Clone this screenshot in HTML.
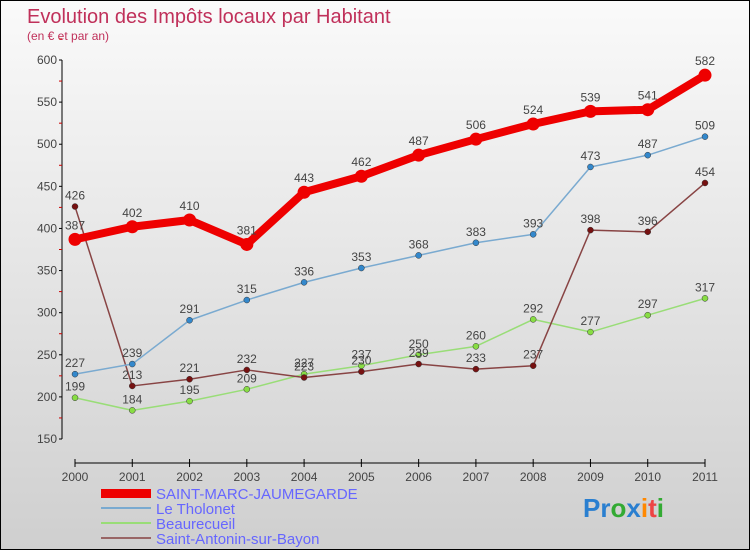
<!DOCTYPE html>
<html><head><meta charset="utf-8"><style>
body{margin:0}
#c{width:748px;height:548px;border:1px solid #000;background:linear-gradient(#fafafa,#cfcfcf);position:relative;overflow:hidden;font-family:"Liberation Sans",sans-serif}
</style></head><body>
<div id="c">
<svg width="748" height="548" id="svg">
<text x="26" y="22" font-size="20" fill="#c0305a">Evolution des Impôts locaux par Habitant</text>
<text x="26" y="39" font-size="12" fill="#c0305a">(en € et par an)</text>
<g id="axes"></g><g id="series"></g>
<g>
<rect x="100" y="488" width="50" height="9" fill="#e00"/>
<text x="155" y="498" font-size="15" fill="#66f">SAINT-MARC-JAUMEGARDE</text>
<line x1="100" x2="150" y1="507" y2="507" stroke="#7aaad0" stroke-width="2"/>
<text x="155" y="513" font-size="15" fill="#66f">Le Tholonet</text>
<line x1="100" x2="150" y1="522" y2="522" stroke="#99dd77" stroke-width="2"/>
<text x="155" y="528" font-size="15" fill="#66f">Beaurecueil</text>
<line x1="100" x2="150" y1="537" y2="537" stroke="#996666" stroke-width="2"/>
<text x="155" y="543" font-size="15" fill="#66f">Saint-Antonin-sur-Bayon</text>
</g>
<text x="582" y="516" font-size="26" font-weight="bold"><tspan fill="#2a7fd0">Pr</tspan><tspan fill="#3a3">o</tspan><tspan fill="#2a7fd0">x</tspan><tspan fill="#f80">i</tspan><tspan fill="#e44">t</tspan><tspan fill="#3a3">i</tspan></text>
</svg></div>
<script>
const years=[2000,2001,2002,2003,2004,2005,2006,2007,2008,2009,2010,2011];
const yTicks=[150,200,250,300,350,400,450,500,550,600];
const saintMarc=[387,402,410,381,443,462,487,506,524,539,541,582];
const tholonet=[227,239,291,315,336,353,368,383,393,473,487,509];
const beaurecueil=[199,184,195,209,227,237,250,260,292,277,297,317];
const saintAntonin=[426,213,221,232,223,230,239,233,237,398,396,454];
const NS="http://www.w3.org/2000/svg";
function X(i){return 74+i*(630/11);}
function Y(v){return 59+(600-v)*379/450;}
function mk(t,a,p){const e=document.createElementNS(NS,t);for(const k in a)e.setAttribute(k,a[k]);p.appendChild(e);return e;}
const ax=document.getElementById('axes');
let l=mk('line',{x1:61,x2:61,y1:Y(600),y2:Y(150),stroke:'#000'},ax);


l=mk('line',{x1:74,x2:704,y1:462,y2:462,stroke:'#000'},ax);


yTicks.forEach(v=>{
 mk('line',{x1:58,x2:61,y1:Y(v),y2:Y(v),stroke:'#000'},ax);
 mk('line',{x1:58,x2:61,y1:Y(v+25),y2:Y(v+25),stroke:'#c00'},ax);
 const t=mk('text',{x:56,y:Y(v)+4,'font-size':12,fill:'#444','text-anchor':'end'},ax);t.textContent=v;
 
 
});
years.forEach((y,i)=>{
 mk('line',{x1:X(i),x2:X(i),y1:458,y2:466,stroke:'#000'},ax);
 const t=mk('text',{x:X(i),y:480,'font-size':12,fill:'#444','text-anchor':'middle'},ax);t.textContent=y;
 
 
});
const sg=document.getElementById('series');
function draw(vals,color,w,r,name,dot){
 const g=mk('g',{},sg);
 
 
 mk('polyline',{points:vals.map((v,i)=>X(i)+','+Y(v)).join(' '),fill:'none',stroke:color,'stroke-width':w,'stroke-linejoin':'round'},g);
 vals.forEach((v,i)=>{
  const c=mk('circle',{cx:X(i),cy:Y(v),r:r,fill:dot,stroke:'#333','stroke-width':r>4?0:0.5},g);
  
  
  const t=mk('text',{x:X(i),y:Y(v)-(r>4?10:7),'font-size':12,fill:'#444','text-anchor':'middle'},g);t.textContent=v;
  
  
 });
}
draw(beaurecueil,'#99dd77',1.5,3,'beaurecueil','#88dd44');
draw(saintAntonin,'#884444',1.5,3,'saint-antonin','#771111');
draw(tholonet,'#7aaad0',1.5,3,'tholonet','#3388cc');
draw(saintMarc,'#ee0000',8,6.5,'saint-marc','#ee0000');
</script>
</body></html>
